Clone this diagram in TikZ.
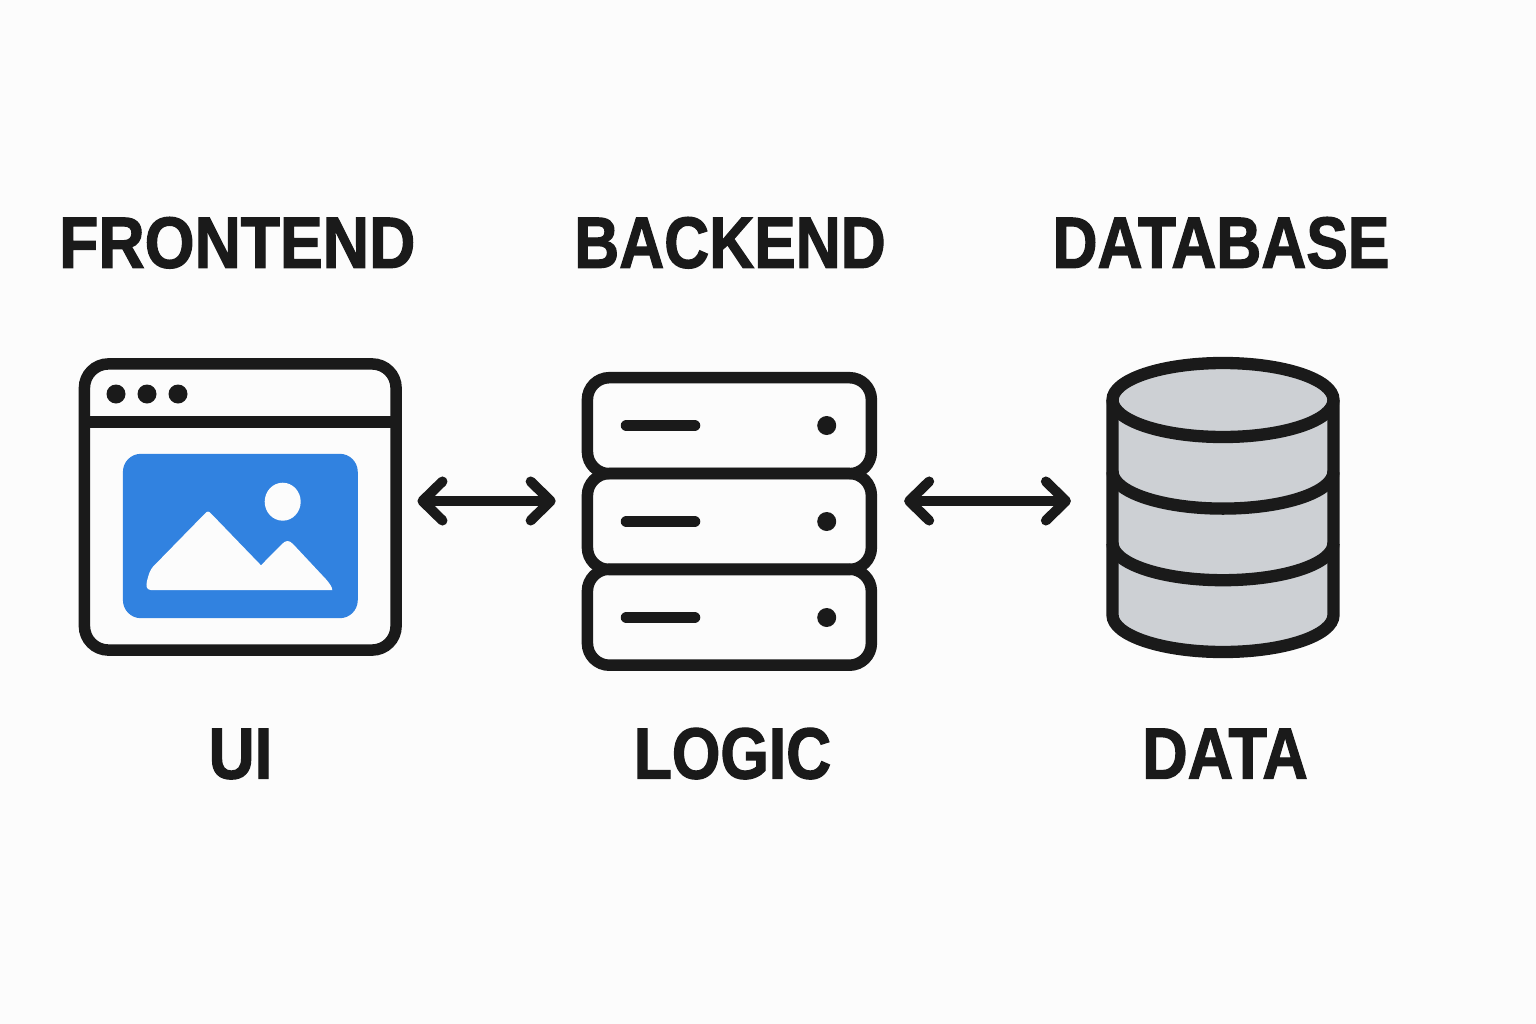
\documentclass[tikz,border=0pt]{standalone}
\usepackage{fontspec}
\setmainfont[BoldFeatures={FakeBold=1.8}]{Liberation Sans}
\usetikzlibrary{arrows.meta}
\definecolor{ink}{HTML}{1A1A1A}
\definecolor{paper}{HTML}{FCFCFC}
\definecolor{sky}{HTML}{3182E0}
\definecolor{steel}{HTML}{CDD0D4}
\begin{document}
\begin{tikzpicture}[x=0.01cm,y=-0.01cm]
  \tikzstyle{stroke}=[draw=ink,line width=3.27pt]
  \tikzstyle{heavy}=[draw=ink,line width=3.5pt]
  \tikzstyle{heading}=[anchor=base,text=ink,inner sep=0pt,font=\bfseries\fontsize{20.6pt}{24pt}\selectfont]
  \tikzstyle{window}=[stroke,rectangle,rounded corners=0.24cm,minimum width=3.115cm,minimum height=2.86cm,inner sep=0pt]
  \tikzstyle{unit}=[stroke,rectangle,rounded corners=0.22cm,minimum width=2.838cm,minimum height=0.96cm,inner sep=0pt]
  \tikzstyle{link}=[draw=ink,line width=2.85pt,{Straight Barb[length=0.2cm,width=0.39cm,round]}-{Straight Barb[length=0.2cm,width=0.39cm,round]}]
  \fill[paper] (0,0) rectangle (1536,1024);
  \useasboundingbox (0,0) rectangle (1536,1024);

  \node[heading] (T_1) at (237.3,267.7) {\scalebox{0.885}[1]{FRONTEND}};
  \node[heading] (T_2) at (730,267.7)   {\scalebox{0.86}[1]{BACKEND}};
  \node[heading] (T_3) at (1221,267.7)  {\scalebox{0.86}[1]{DATABASE}};
  \node[heading] (T_4) at (240.5,778.5) {\scalebox{0.88}[1]{UI}};
  \node[heading] (T_5) at (732.5,778.5) {\scalebox{0.86}[1]{LOGIC}};
  \node[heading] (T_6) at (1225,778.5)  {\scalebox{0.87}[1]{DATA}};

  % browser
  \node[window] (F_1) at (240.25,507) {};
  \draw[stroke] (84.5,422) -- (396,422);
  \foreach \x in {116,147,178}
    \fill[ink] (\x,394) circle [radius=9.5];
  \node[rectangle,fill=sky,rounded corners=0.18cm,minimum width=2.347cm,minimum height=1.643cm,inner sep=0pt] (F_2) at (240.35,536) {};
  \fill[paper] (282.7,501.7) ellipse [x radius=18,y radius=19];
  \fill[paper] (332.3,590) -- (150.7,590) .. controls (146,590) and (146,585) .. (147,581)
    .. controls (148.5,575) and (150,570) .. (153,566.7) -- (205,513.5)
    .. controls (207,511) and (209,511) .. (211,513.5) -- (261,565.3) -- (282,544)
    .. controls (286,540) and (289,540) .. (293,544) -- (326.7,580)
    .. controls (330,584) and (332,587) .. (332.3,590) -- cycle;

  % servers
  \node[unit] (B_1) at (729.4,425.7) {};
  \node[unit] (B_2) at (729.4,521.5) {};
  \node[unit] (B_3) at (729.4,617.2) {};
  \foreach \y in {425.5,521.5,617.5} {
    \draw[stroke,line cap=round] (626.5,\y) -- (694.5,\y);
    \fill[ink] (826.7,\y) circle [radius=9.5];
  }

  % cylinder
  \node[minimum width=2.326cm,minimum height=3.013cm,inner sep=0pt] (D_1) at (1223,507.3) {};
  \fill[steel] (1112.5,400) arc [start angle=180,end angle=0,x radius=110.5,y radius=37]
    -- (1333.5,615) arc [start angle=0,end angle=180,x radius=110.5,y radius=37] -- cycle;
  \fill[steel] (1223,400) ellipse [x radius=110.5,y radius=37];
  \draw[heavy] (1223,400) ellipse [x radius=110.5,y radius=37];
  \draw[heavy] (1112.5,400) -- (1112.5,615) arc [start angle=180,end angle=0,x radius=110.5,y radius=37] -- (1333.5,400);
  \foreach \y in {471.6,543.2}
    \draw[heavy] (1112.5,\y) arc [start angle=180,end angle=0,x radius=110.5,y radius=37];

  % arrows
  \coordinate (M) at (0,501);
  \draw[link,shorten <=15.6*0.01cm,shorten >=26*0.01cm] (F_1.east |- M) -- (B_2.west |- M);
  \draw[link,shorten <=27*0.01cm,shorten >=35*0.01cm] (B_2.east |- M) -- (D_1.west |- M);
\end{tikzpicture}
\end{document}
